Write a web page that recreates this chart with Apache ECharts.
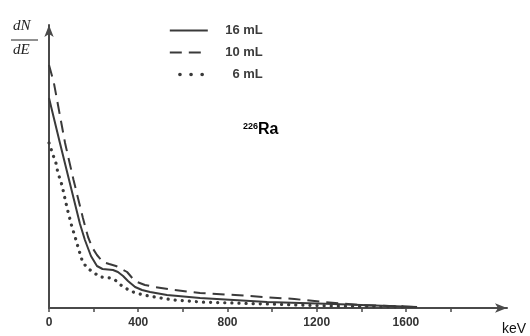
<!DOCTYPE html>
<html>
<head>
<meta charset="utf-8">
<script src="https://cdn.jsdelivr.net/npm/echarts@6/dist/echarts.min.js"></script>
<style>
html,body{margin:0;padding:0;background:#fff;}
#c{width:530px;height:336px;}
</style>
</head>
<body>
<div id="c"></div>
<script>
// Energy (keV) and dN/dE (arbitrary units)
var energy16 = [0, 49, 100, 139, 161, 188, 215, 240, 287, 309, 332, 354, 386, 417, 453, 529, 677, 978, 1274, 1650];
var dndE16   = [210, 165, 119, 84, 68, 52, 42, 39, 38, 36, 32, 27, 21, 18, 16, 13, 10, 6, 4, 1];

var energy10 = [0, 22, 72, 110, 152, 175, 195, 215, 242, 270, 300, 318, 350, 377, 395, 430, 475, 560, 677, 834, 960, 1100, 1229, 1395, 1650];
var dndE10   = [243, 225, 165, 128, 90, 71, 60, 53, 46, 44, 42, 40, 36, 29, 26, 23, 21, 18, 15, 13, 11, 9, 6, 3, 1];

var energy6 = [0, 18, 31, 40, 54, 63, 81, 103, 117, 130, 152, 184, 229, 274, 296, 332, 377, 422, 475, 556, 677, 825, 978, 1274, 1600];
var dndE6   = [165, 153, 145, 135, 126, 118, 100, 81, 71, 61, 45, 38, 31, 30, 28, 21, 16, 13, 11, 8, 6, 5, 4, 2, 1];

var seriesNames = ['16 mL', '10 mL', '6 mL'];
var tickValues = [0, 200, 400, 600, 800, 1000, 1200, 1400, 1600, 1800];
var labelValues = [0, 400, 800, 1200, 1600];

function pairs(xs, ys) { return xs.map(function (x, i) { return [x, ys[i]]; }); }

var ink = '#3a3a3a';
var dotStyle = {color: ink, width: 3.2, type: [0.1, 7], cap: 'round'};
var chart = echarts.init(document.getElementById('c'), null, {renderer: 'canvas'});
chart.setOption({
  backgroundColor: '#ffffff',
  animation: false,
  grid: {left: 49, right: 23, top: 25, bottom: 28, containLabel: false},
  legend: {
    orient: 'vertical', left: 163, top: 19, itemWidth: 38, itemHeight: 14, itemGap: 9,
    data: [
      {name: seriesNames[0]},
      {name: seriesNames[1]},
      {name: seriesNames[2], lineStyle: {width: 3.6, type: [0.1, 11], cap: 'round', dashOffset: 1}}
    ],
    itemStyle: {opacity: 0},
    formatter: function (n) { return '{t|' + n + '}'; },
    textStyle: {
      rich: {t: {width: 50, align: 'right', fontFamily: 'Liberation Sans, Arial, sans-serif', fontWeight: 'bold', fontSize: 13, color: '#3c3c3c'}}
    }
  },
  xAxis: {
    type: 'value', min: 0, max: 2053, splitLine: {show: false},
    axisLine: {show: true, lineStyle: {color: '#4a4a4a', width: 2}, symbol: ['none', 'arrow'], symbolSize: [7, 12], symbolOffset: [0, 0]},
    axisTick: {show: true, customValues: tickValues, length: 4, lineStyle: {color: '#4a4a4a', width: 1.5}},
    axisLabel: {show: true, customValues: labelValues, margin: 9, formatter: function (v) { return String(v); },
      fontFamily: 'Liberation Sans, Arial, sans-serif', fontWeight: 'bold', fontSize: 12, color: '#333'}
  },
  yAxis: {
    type: 'value', min: 0, max: 283, splitLine: {show: false},
    axisLine: {show: true, onZero: false, lineStyle: {color: '#4a4a4a', width: 2}, symbol: ['none', 'arrow'], symbolSize: [7, 12], symbolOffset: [0, 0]},
    axisTick: {show: false}, axisLabel: {show: false}
  },
  series: [
    {name: seriesNames[0], type: 'line', data: pairs(energy16, dndE16), symbol: 'none', smooth: false,
     lineStyle: {color: ink, width: 2, join: 'round'}, itemStyle: {color: ink}},
    {name: seriesNames[1], type: 'line', data: pairs(energy10, dndE10), symbol: 'none', smooth: false,
     lineStyle: {color: ink, width: 2, type: [12, 7]}, itemStyle: {color: ink}},
    {name: seriesNames[2], type: 'line', data: pairs(energy6, dndE6), symbol: 'none', smooth: false,
     lineStyle: dotStyle, itemStyle: {color: ink}}
  ],
  graphic: [
    {type: 'text', left: 13, top: 19, style: {text: 'dN', font: 'italic 15px "Liberation Serif", "Times New Roman", serif', fill: '#222'}},
    {type: 'line', shape: {x1: 11, y1: 40, x2: 38, y2: 40}, style: {stroke: '#222', lineWidth: 1}},
    {type: 'text', left: 13, top: 43, style: {text: 'dE', font: 'italic 15px "Liberation Serif", "Times New Roman", serif', fill: '#222'}},
    {type: 'text', left: 243, top: 122, style: {
      text: '{s|226}{b|Ra}',
      rich: {
        s: {fontFamily: 'Liberation Sans, Arial, sans-serif', fontWeight: 'bold', fontSize: 9, color: '#333', verticalAlign: 'top', padding: [0, 0, 6, 0]},
        b: {fontFamily: 'Liberation Sans, Arial, sans-serif', fontWeight: 'bold', fontSize: 16, color: '#333'}
      }}},
    {type: 'text', left: 502, top: 322, style: {text: 'keV', font: '14px "Liberation Sans", Arial, sans-serif', fill: '#111'}}
  ]
});
</script>
</body>
</html>
